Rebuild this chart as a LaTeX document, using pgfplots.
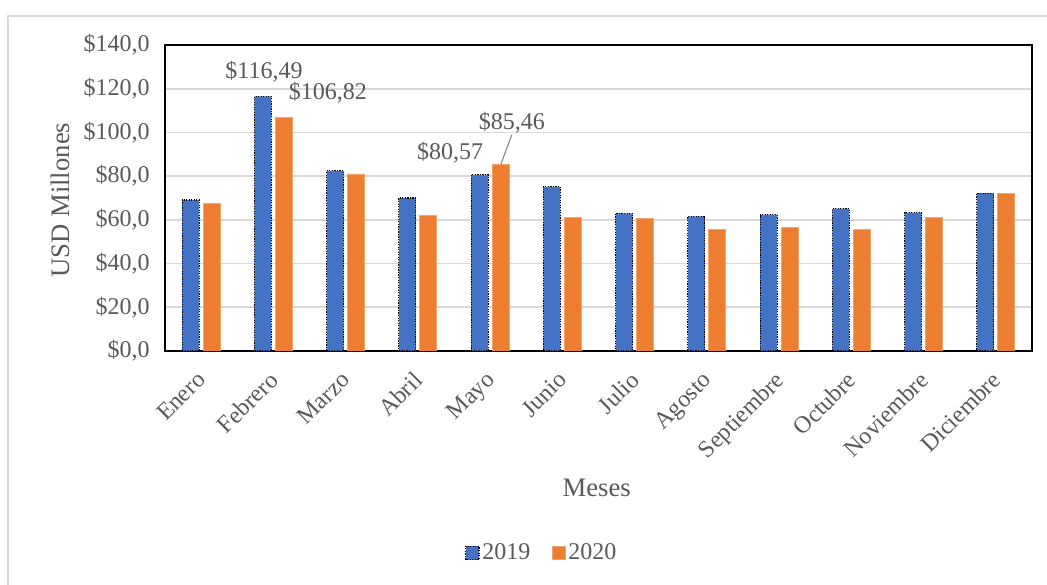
\documentclass[border=0pt]{standalone}
\usepackage{fontspec}
\setmainfont{Liberation Serif}
\usepackage{pgfplots}
\pgfplotsset{compat=1.18}
\definecolor{cBlue}{HTML}{4472C4}
\definecolor{cOrange}{HTML}{ED7D31}
\definecolor{cText}{HTML}{595959}
\definecolor{cGrid}{HTML}{D9D9D9}
\begin{document}
\begin{tikzpicture}
\useasboundingbox (0pt,0pt) rectangle (785.25pt,438.75pt);
\draw[cGrid,line width=1.2pt] (6pt,-20pt) rectangle (800pt,426.75pt);
\begin{axis}[
  at={(123.75pt,175.5pt)}, anchor=south west,
  scale only axis, width=650.25pt, height=229.5pt,
  ybar=3pt, bar width=12.75pt,
  xmin=-0.5, xmax=11.5, ymin=0, ymax=140,
  xtick=data,
  xticklabels={Enero,Febrero,Marzo,Abril,Mayo,Junio,Julio,Agosto,Septiembre,Octubre,Noviembre,Diciembre},
  ytick={0,20,40,60,80,100,120,140},
  yticklabels={{\$0,0},{\$20,0},{\$40,0},{\$60,0},{\$80,0},{\$100,0},{\$120,0},{\$140,0}},
  major tick length=0pt,
  ymajorgrids, grid style={cGrid,line width=1.2pt},
  axis line style={black,line width=1.5pt},
  tick label style={font=\fontsize{18}{21}\selectfont,text=cText},
  yticklabel style={xshift=-8pt},
  xticklabel style={rotate=45,anchor=north east,inner sep=1pt,xshift=-12pt,yshift=-6pt},
  xlabel={Meses}, ylabel={USD Millones},
  label style={font=\fontsize{20}{24}\selectfont,text=cText},
  xlabel style={at={(axis description cs:0.498,-0.448)},anchor=center},
  ylabel style={at={(axis description cs:-0.121,0.493)},anchor=center},
  legend style={at={(0.435,-0.66)},anchor=center,legend columns=2,draw=none,
    font=\fontsize{18}{21}\selectfont,text=cText,
    /tikz/every even column/.append style={column sep=14pt}},
  legend image code/.code={\draw[#1] (0pt,-5pt) rectangle (10pt,5pt);},
]
\addplot[fill=cBlue,draw=black,densely dotted,line width=0.9pt] coordinates
  {(0,69.1) (1,116.49) (2,82.4) (3,70.0) (4,80.57) (5,75.1)
   (6,63.0) (7,61.6) (8,62.4) (9,65.1) (10,63.3) (11,72.2)};
\addplot[fill=cOrange,draw=cOrange!70,line width=0.6pt] coordinates
  {(0,67.7) (1,106.82) (2,81.0) (3,62.2) (4,85.46) (5,61.3)
   (6,60.7) (7,55.7) (8,56.6) (9,55.8) (10,61.2) (11,72.2)};
\legend{2019,2020}
\begin{scope}[font=\fontsize{18}{21}\selectfont,text=cText]
\node at (axis cs:0.87,127.7) {\$116,49};
\node at (axis cs:1.756,118.1) {\$106,82};
\node at (axis cs:3.445,90.6) {\$80,57};
\node at (axis cs:4.30,104.3) {\$85,46};
\end{scope}
\draw[gray,line width=0.8pt] (axis cs:4.30,98.9) -- (axis cs:4.15,85.6);
\end{axis}
\end{tikzpicture}
\end{document}
